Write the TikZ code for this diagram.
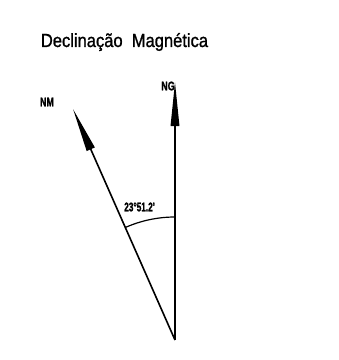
\documentclass[tikz,border=0pt]{standalone}
\usepackage{fontspec}
\setmainfont{Liberation Sans}
\newfontfamily\heavy{Liberation Sans Bold}[FakeBold=1.5]
\newfontfamily\medfont{Liberation Sans}[FakeBold=1.2]
\usetikzlibrary{arrows.meta,calc}
\begin{document}
\begin{tikzpicture}[x=1pt,y=-1pt,
  vec/.style={line width=1.6pt,-{Triangle[length=44pt,width=8.5pt]}},
  lbl/.style={inner sep=0pt,font=\heavy\fontsize{12.5}{12.5}\selectfont,xscale=0.72},
]
\useasboundingbox (0,0) rectangle (339,360);
\coordinate (O) at (175,340);
\coordinate (NGtip) at (175,82);
\coordinate (NMtip) at (73,109);
\node[inner sep=0pt,font=\medfont\fontsize{19}{19}\selectfont,xscale=0.87] (title) at (124.5,42) {Declinação\ \ Magnética};
\draw[vec] (O) -- (NGtip);
\draw[vec] (O) -- (NMtip);
\node[lbl] (ng) at (168,86) {NG};
\node[lbl] (nm) at (47,102) {NM};
\draw[line width=1.2pt] ($(O)+(0,-123)$) arc[start angle=-90,end angle={-90-23.86},radius=123];
\node[lbl,xscale=0.66/0.72] (ang) at (139.5,207) {23°51.2'};
\end{tikzpicture}
\end{document}
